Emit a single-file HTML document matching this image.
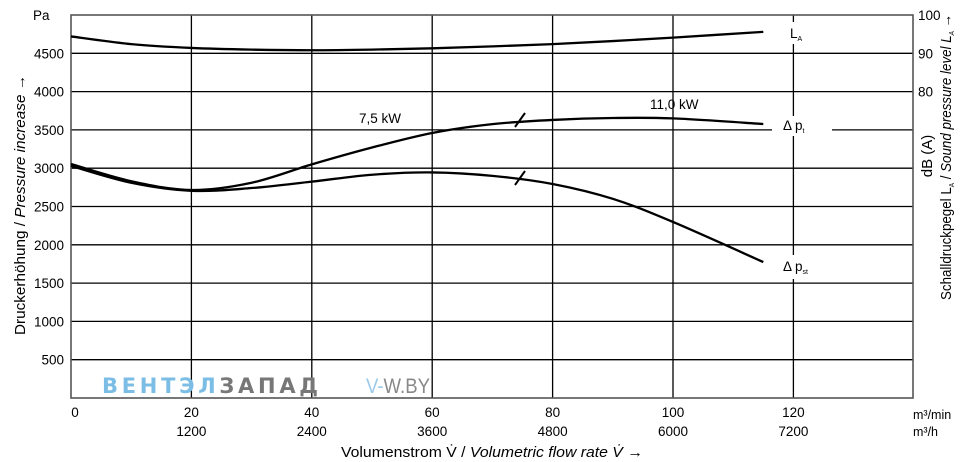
<!DOCTYPE html>
<html><head><meta charset="utf-8"><style>
body{margin:0;background:#fff;}
svg{display:block;font-family:"Liberation Sans",sans-serif;}
</style></head><body>
<svg id="chart" width="968" height="462" viewBox="0 0 968 462">
<g id="grid"></g>
<g id="curves"></g>
<g id="labels"></g>
<g>
<text x="102" y="393" font-size="21" font-weight="bold" textLength="216" lengthAdjust="spacing" fill="#7cbde6" font-family="'DejaVu Sans',sans-serif">ВЕНТЭЛ<tspan fill="#777">ЗАПАД</tspan></text>
<text x="366" y="393" font-size="21" textLength="64" lengthAdjust="spacingAndGlyphs" fill="#9cc9e8">V-<tspan fill="#888">W.BY</tspan></text>
</g>
</svg>
<script>
const xTicks=[0,20,40,60,80,100,120];
const xTicksH=["","1200","2400","3600","4800","6000","7200"];
const yTicks=[500,1000,1500,2000,2500,3000,3500,4000,4500];
const dbTicks=[100,90,80];
const flowLA=[0,10,20,30,40,50,60,70,80,90,100,115];
const valLA=[4720,4620,4570,4548,4540,4548,4565,4590,4620,4660,4705,4780];
const flowPt=[0,10,20,30,40,50,60,70,80,90,100,115];
const valPt=[3055,2830,2715,2810,3050,3270,3460,3575,3630,3655,3650,3577];
const flowPst=[0,10,20,30,40,50,60,70,80,90,100,115];
const valPst=[3030,2810,2705,2741,2825,2915,2945,2900,2794,2600,2298,1775];
const NS="http://www.w3.org/2000/svg";
const L=71,R=913,T=15,B=398;
const X=v=>L+v*6.02;
const Y=p=>B-p*(B-T)/5000;
const YdB=d=>Y(d*50);
function mk(tag,attrs,parent,txt){const e=document.createElementNS(NS,tag);for(const k in attrs)e.setAttribute(k,attrs[k]);if(txt!==undefined)e.textContent=txt;parent.appendChild(e);return e;}
const grid=document.getElementById('grid'),cur=document.getElementById('curves'),lab=document.getElementById('labels');
yTicks.forEach(p=>{
 const l=mk('line',{x1:L,x2:R,y1:Y(p),y2:Y(p),stroke:'#000','stroke-width':1.3},grid);
 
 
 const t=mk('text',{x:L-7,y:Y(p)+5,'text-anchor':'end','font-size':13.5},lab,String(p));
 
 
});
xTicks.forEach((v,i)=>{
 if(v>0){const l=mk('line',{x1:X(v),x2:X(v),y1:T,y2:B,stroke:'#000','stroke-width':1.3},grid);
 
 }
 const t=mk('text',{x:X(v)+(v===0?4:0),y:417,'text-anchor':'middle','font-size':13.5},lab,String(v));
 
 
 if(xTicksH[i]){const t2=mk('text',{x:X(v),y:436,'text-anchor':'middle','font-size':13.5},lab,xTicksH[i]);
 
 }
});
dbTicks.forEach(d=>{
 const t=mk('text',{x:918,y:YdB(d)+5,'font-size':13.5},lab,String(d));
 
 
});
const frame=mk('rect',{x:L,y:T,width:R-L,height:B-T,fill:'none',stroke:'#555','stroke-width':1.6},grid);


function path(xs,ys){const p=xs.map((x,i)=>[X(x),Y(ys[i])]);let d='M'+p[0][0]+','+p[0][1];
 for(let i=0;i<p.length-1;i++){const p0=p[i-1]||p[i],p1=p[i],p2=p[i+1],p3=p[i+2]||p2;
 d+=' C'+(p1[0]+(p2[0]-p0[0])/6)+','+(p1[1]+(p2[1]-p0[1])/6)+' '+(p2[0]-(p3[0]-p1[0])/6)+','+(p2[1]-(p3[1]-p1[1])/6)+' '+p2[0]+','+p2[1];}
 return d;}
[[776,22,34,22],[772,116,60,20],[772,255,50,24]].forEach(r=>{const b=mk('rect',{x:r[0],y:r[1],width:r[2],height:r[3],fill:'#fff'},cur);
 
 });
const la=mk('path',{d:path(flowLA,valLA),fill:'none',stroke:'#000','stroke-width':2.3},cur);


const pt=mk('path',{d:path(flowPt,valPt),fill:'none',stroke:'#000','stroke-width':2.3},cur);


const pst=mk('path',{d:path(flowPst,valPst),fill:'none',stroke:'#000','stroke-width':2.3},cur);


[[519,120],[519,178]].forEach(s=>{const m=mk('line',{x1:s[0]-4,y1:s[1]+7,x2:s[0]+6,y2:s[1]-7,stroke:'#000','stroke-width':2},cur);
 
 });
const txts=[
 ['Pa',33,20,'start',13.5,'unit-label'],
 ['7,5 kW',359,123,'start',13.5,'power-label-7-5kw'],
 ['11,0 kW',650,109,'start',13.5,'power-label-11kw'],
 ['m³/min',913,419,'start',12.5,'x-unit-m3min'],
 ['m³/h',913,436,'start',12.5,'x-unit-m3h']
];
txts.forEach(a=>{const t=mk('text',{x:a[1],y:a[2],'text-anchor':a[3],'font-size':a[4]},lab,a[0]);
 
 });
const lal=mk('text',{x:790,y:38,'font-size':13.5},lab);lal.innerHTML='L<tspan font-size="7" dy="3">A</tspan>';


const ptl=mk('text',{x:783,y:130,'font-size':13.5},lab);ptl.innerHTML='Δ p<tspan font-size="7" dy="3">t</tspan>';


const pstl=mk('text',{x:783,y:271,'font-size':13.5},lab);pstl.innerHTML='Δ p<tspan font-size="7" dy="3">st</tspan>';


const xt=mk('text',{x:341,y:457,'font-size':15,textLength:302,lengthAdjust:'spacingAndGlyphs'},lab);xt.innerHTML='Volumenstrom V̇ / <tspan font-style="italic">Volumetric flow rate V̇</tspan> →';


const yt=mk('text',{transform:'translate(25,335) rotate(-90)','font-size':15,textLength:260,lengthAdjust:'spacingAndGlyphs'},lab);yt.innerHTML='Druckerhöhung / <tspan font-style="italic">Pressure increase</tspan> →';


const dbl=mk('text',{transform:'translate(932,156) rotate(-90)','text-anchor':'middle','font-size':15},lab,'dB (A)');


const rt=mk('text',{transform:'translate(951,300) rotate(-90)','font-size':14.5,textLength:286,lengthAdjust:'spacingAndGlyphs'},lab);rt.innerHTML='Schalldruckpegel L<tspan font-size="7" dy="3">A</tspan><tspan dy="-3"> / </tspan><tspan font-style="italic">Sound pressure level L</tspan><tspan font-size="7" dy="3" font-style="italic">A</tspan><tspan dy="-3"> →</tspan>';


</script>
</body></html>
